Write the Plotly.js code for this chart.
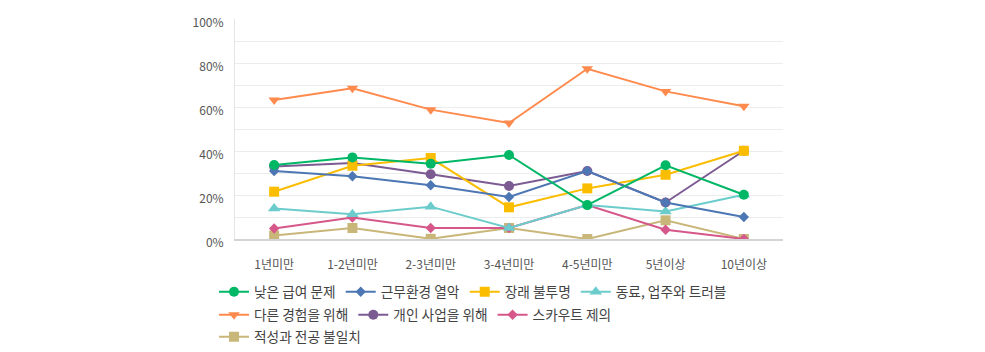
<!DOCTYPE html>
<html>
<head>
<meta charset="utf-8">
<script src="https://cdn.plot.ly/plotly-3.0.1.min.js"></script>
<style>html,body{margin:0;padding:0;background:#fff;}#chart{width:985px;height:352px;}</style>
</head>
<body>
<div id="chart"></div>
<script>
const categories = ['1년미만', '1-2년미만', '2-3년미만', '3-4년미만', '4-5년미만', '5년이상', '10년이상'];
const seriesNames = ['낮은 급여 문제', '근무환경 열악', '장래 불투명', '동료, 업주와 트러블', '다른 경험을 위해', '개인 사업을 위해', '스카우트 제의', '적성과 전공 불일치'];
const lowPay = [33.6, 37.1, 34.2, 38.2, 15.4, 33.5, 20.1];
const badEnvironment = [30.9, 28.5, 24.4, 19.1, 30.9, 16.6, 10.0];
const uncertainFuture = [21.5, 33.3, 36.8, 14.4, 23.0, 29.2, 40.1];
const coworkerTrouble = [13.9, 11.2, 14.7, 5.0, 15.4, 12.5, 20.1];
const otherExperience = [63.2, 68.5, 58.8, 52.7, 77.4, 67.1, 60.3];
const ownBusiness = [33.0, 34.5, 29.4, 24.1, 30.9, 16.6, 40.1];
const scoutOffer = [4.8, 9.8, 5.0, 5.0, 15.4, 4.2, 0.0];
const aptitudeMismatch = [1.6, 5.0, 0.1, 5.0, 0.0, 8.5, 0.0];
const yTickVals = [0, 20, 40, 60, 80, 100];
const yTickText = ['0%', '20%', '40%', '60%', '80%', '100%'];
const yGridVals = [10, 20, 30, 40, 50, 60, 70, 80, 90];

const values = [lowPay, badEnvironment, uncertainFuture, coworkerTrouble, otherExperience, ownBusiness, scoutOffer, aptitudeMismatch];
const colors = ['#00b766', '#4d77b4', '#fbbd00', '#6ccccc', '#ff8a4d', '#7c5b93', '#d6578a', '#c9b77a'];
const symbols = ['circle', 'diamond', 'square', 'triangle-up', 'triangle-down', 'circle', 'diamond', 'square'];
const sizes = [10, 8, 10, 11, 10, 10, 8, 10];
const legendRow = ['legend', 'legend', 'legend', 'legend', 'legend2', 'legend2', 'legend2', 'legend3'];

// first series drawn on top: add traces in reverse, keep legend order via legendrank
const traces = values.map((v, i) => ({
  type: 'scatter',
  mode: 'lines+markers',
  name: seriesNames[i],
  legend: legendRow[i],
  legendrank: i + 1,
  x: categories,
  y: v,
  line: {color: colors[i], width: 2},
  marker: {color: colors[i], symbol: symbols[i], size: sizes[i]}
})).reverse();

const legendBase = {
  orientation: 'h',
  x: -0.0383,
  xanchor: 'left',
  yanchor: 'top',
  font: {size: 13.7, color: '#444'},
  itemwidth: 30,
  traceorder: 'normal',
  bgcolor: 'rgba(0,0,0,0)'
};

const layout = {
  width: 985,
  height: 352,
  margin: {l: 235, r: 202, t: 19, b: 113, autoexpand: false},
  paper_bgcolor: '#fff',
  plot_bgcolor: '#fff',
  font: {family: '"Noto Sans CJK KR", "Noto Sans", sans-serif', size: 12, color: '#555'},
  showlegend: true,
  xaxis: {
    type: 'category',
    range: [-0.5, 6.5],
    showgrid: false,
    zeroline: false,
    showline: true,
    linecolor: '#d4d4d4',
    linewidth: 2,
    ticks: '',
    ticklabelstandoff: 14,
    tickfont: {size: 12, color: '#555'},
    fixedrange: true
  },
  yaxis: {
    range: [0, 100],
    tickmode: 'array',
    tickvals: yTickVals,
    ticktext: yTickText,
    showgrid: false,
    zeroline: false,
    showline: true,
    linecolor: '#e6e6e6',
    linewidth: 1,
    ticks: '',
    ticklabelstandoff: 8,
    ticklabelshift: 4,
    tickfont: {size: 12, color: '#555'},
    minor: {tickmode: 'array', tickvals: yGridVals, showgrid: true, gridcolor: '#ececec', gridwidth: 1, ticks: ''},
    fixedrange: true
  },
  legend: Object.assign({}, legendBase, {y: -0.17}),
  legend2: Object.assign({}, legendBase, {y: -0.274}),
  legend3: Object.assign({}, legendBase, {y: -0.374})
};

Plotly.newPlot('chart', traces, layout, {displayModeBar: false, staticPlot: true});
</script>
</body>
</html>
